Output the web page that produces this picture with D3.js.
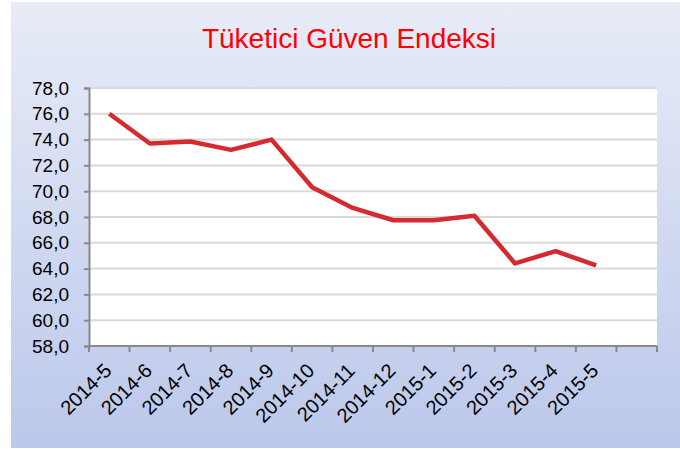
<!DOCTYPE html>
<html>
<head>
<meta charset="utf-8">
<script src="https://cdn.jsdelivr.net/npm/d3@7"></script>
<style>
  body { margin: 0; background: #fff; }
  text { font-family: "Liberation Sans", Arial, sans-serif; }
</style>
</head>
<body>
<div id="chart"></div>
<script>
// chart data
const months = ["2014-5", "2014-6", "2014-7", "2014-8", "2014-9", "2014-10", "2014-11",
  "2014-12", "2015-1", "2015-2", "2015-3", "2015-4", "2015-5"];
const values = [76.0, 73.7, 73.85, 73.2, 74.0, 70.3, 68.7, 67.75, 67.75, 68.1, 64.4, 65.35, 64.25];
const yTicks = [58, 60, 62, 64, 66, 68, 70, 72, 74, 76, 78];
const title = "Tüketici Güven Endeksi";

function draw() {
  const width = 680, height = 449;
  const margin = {top: 88, right: 23, bottom: 103, left: 89};

  const svg = d3.select("#chart")
    .append("svg")
    .attr("width", width)
    .attr("height", height);

  // background gradient
  const grad = svg.append("defs").append("linearGradient")
    .attr("id", "bg")
    .attr("x1", 0).attr("y1", 0).attr("x2", 0).attr("y2", 1);
  grad.append("stop").attr("offset", "0%").attr("stop-color", "#e8ecf7");
  grad.append("stop").attr("offset", "100%").attr("stop-color", "#bcc8eb");

  svg.append("rect")
    .attr("x", 11).attr("y", 2)
    .attr("width", width - 11).attr("height", height - 3)
    .attr("fill", "url(#bg)");

  svg.append("text")
    .attr("x", 349).attr("y", 48)
    .attr("text-anchor", "middle")
    .attr("fill", "#ff0000")
    .attr("font-size", 28)
    .text(title);

  const innerW = width - margin.left - margin.right;
  const innerH = height - margin.top - margin.bottom;

  // one extra empty slot at the end, like the original
  const x = d3.scaleBand()
    .domain(months.concat([""]))
    .range([0, innerW]);

  const y = d3.scaleLinear()
    .domain([58, 78])
    .range([innerH, 0]);

  const chart = svg.append("g")
    .attr("transform", `translate(${margin.left}, ${margin.top})`);

  chart.append("rect")
    .attr("width", innerW).attr("height", innerH)
    .attr("fill", "#fff");

  // gridlines
  chart.selectAll(".grid")
    .data(yTicks.slice(1))
    .join("line")
    .attr("x1", 0).attr("x2", innerW)
    .attr("y1", d => y(d)).attr("y2", d => y(d))
    .attr("stroke", "#d9d9d9")
    .attr("stroke-width", 2);

  // y axis
  const yAxis = chart.append("g")
    .call(d3.axisLeft(y)
      .tickValues(yTicks)
      .tickSize(5)
      .tickPadding(15)
      .tickFormat(d => d3.format(".1f")(d).replace(".", ",")));
  yAxis.selectAll("path, line").attr("stroke", "#898989").attr("stroke-width", 2);
  yAxis.selectAll("text")
    .attr("font-size", 19)
    .attr("fill", "#000")
    .style("font-family", "'Liberation Sans', Arial, sans-serif");

  // x axis: ticks on band edges
  const xAxis = chart.append("g")
    .attr("transform", `translate(0, ${innerH})`);
  xAxis.append("line")
    .attr("x1", 0).attr("x2", innerW)
    .attr("stroke", "#898989").attr("stroke-width", 2);
  xAxis.selectAll(".tick")
    .data(x.domain().map(d => x(d)).concat([innerW]))
    .join("line")
    .attr("x1", d => d).attr("x2", d => d)
    .attr("y1", 0).attr("y2", 6)
    .attr("stroke", "#898989").attr("stroke-width", 2);
  xAxis.selectAll("text")
    .data(months)
    .join("text")
    .attr("transform", d => `translate(${x(d) + x.bandwidth() / 2 + 3.5}, 26) rotate(-45)`)
    .attr("text-anchor", "end")
    .attr("font-size", 20)
    .attr("fill", "#000")
    .text(d => d);

  // the line
  const line = d3.line()
    .x((d, i) => x(months[i]) + x.bandwidth() / 2)
    .y(d => y(d));

  chart.append("path")
    .datum(values)
    .attr("d", line)
    .attr("fill", "none")
    .attr("stroke", "#d42a30")
    .attr("stroke-width", 4.5)
    .attr("stroke-linejoin", "round");
}

draw();
</script>
</body>
</html>
